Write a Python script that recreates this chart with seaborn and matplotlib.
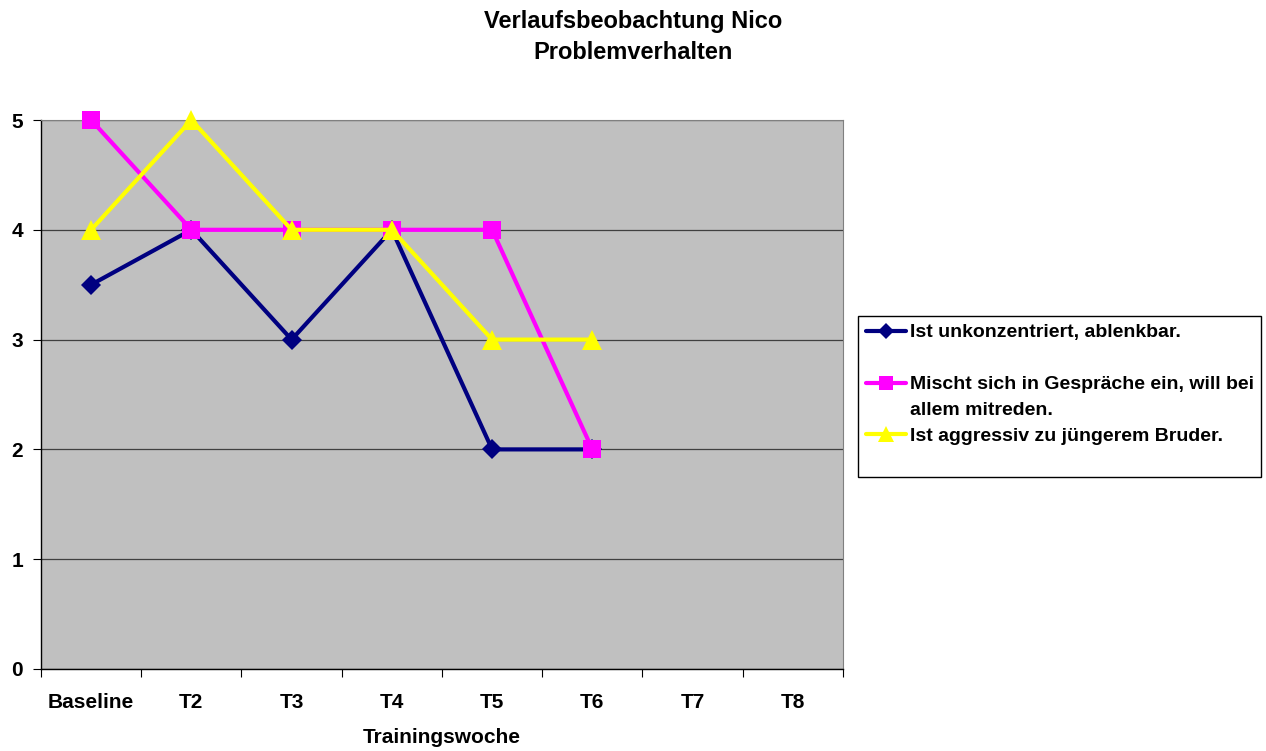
#! /usr/bin/env python3
'''
Verlaufsbeobachtung Nico - Problemverhalten (Liniendiagramm)
'''
# imports
from matplotlib.lines import Line2D
import matplotlib.pyplot as plt
import pandas as pd
import seaborn as sns

# data
wochen = ['Baseline', 'T2', 'T3', 'T4', 'T5', 'T6', 'T7', 'T8']
gemessen = ['Baseline', 'T2', 'T3', 'T4', 'T5', 'T6']
unkonzentriert = [3.5, 4, 3, 4, 2, 2]
mischt_sich_ein = [5, 4, 4, 4, 4, 2]
aggressiv = [4, 5, 4, 4, 3, 3]
labels = ['Ist unkonzentriert, ablenkbar.',
          'Mischt sich in Gespräche ein, will bei',
          'Ist aggressiv zu jüngerem Bruder.']
label_rest = 'allem mitreden.'

# settings
sns.set_style("ticks")
plt.rcParams['font.family'] = ['Liberation Sans', 'DejaVu Sans']
plt.rcParams['font.weight'] = 'bold'
plt.rcParams['text.color'] = 'black'
plt.rcParams['xtick.color'] = 'black'
plt.rcParams['ytick.color'] = 'black'
plt.rcParams['axes.labelcolor'] = 'black'
stile = [
    dict(color='#000080', marker='D', markersize=10.5),
    dict(color='#FF00FF', marker='s', markersize=13),
    dict(color='#FFFF00', marker='^', markersize=14),
]

rows = []
for name, werte in zip(labels, [unkonzentriert, mischt_sich_ein, aggressiv]):
    for w, v in zip(gemessen, werte):
        rows.append({'reihe': name, 'pos': wochen.index(w), 'wert': v})
df = pd.DataFrame(rows)

fig = plt.figure(figsize=(12.66, 7.51), dpi=100)
ax = fig.add_axes([41/1266, 1 - 669/751, (843 - 41)/1266, (669 - 120)/751])
ax.set_facecolor('#C0C0C0')

handles = []
for name, st in zip(labels, stile):
    sns.lineplot(data=df[df['reihe'] == name], x='pos', y='wert', ax=ax,
                 color=st['color'], marker=st['marker'], markersize=st['markersize'],
                 markeredgewidth=0, linewidth=3, legend=False, zorder=3, clip_on=False)
    handles.append(Line2D([], [], color=st['color'], marker=st['marker'],
                          markersize=st['markersize'] * 0.8, markeredgewidth=0, linewidth=3))

# axes
ax.set_xlim(-0.5, len(wochen) - 0.5)
ax.set_ylim(0, 5)
ax.set_yticks(range(6))
ax.set_xticks([i - 0.5 for i in range(len(wochen) + 1)])
ax.set_xticklabels([])
ax.set_xticks(range(len(wochen)), minor=True)
ax.set_xticklabels(wochen, minor=True, fontsize=15, fontweight='bold')
ax.tick_params(axis='x', which='minor', length=0, pad=17)
ax.tick_params(axis='x', which='major', length=6, width=0.8, color='black')
ax.tick_params(axis='y', length=6, width=0.8, pad=7, labelsize=15)
for t in ax.get_yticklabels():
    t.set_fontweight('bold')
ax.grid(axis='y', color='#404040', linewidth=0.9)
ax.set_axisbelow(True)
for s in ['top', 'right']:
    ax.spines[s].set_color('#808080')
    ax.spines[s].set_linewidth(0.8)
for s in ['left', 'bottom']:
    ax.spines[s].set_color('black')
    ax.spines[s].set_linewidth(1.0)
ax.set_xlabel('Trainingswoche', fontsize=15, fontweight='bold', labelpad=12)
ax.set_ylabel('')

fig.suptitle('Verlaufsbeobachtung Nico\nProblemverhalten', x=0.5, y=1 - 10/751,
             va='top', fontsize=17, fontweight='bold', linespacing=1.42)

# legend with blank rows to mimic spacing
leer = Line2D([], [], color='none')
leg_handles = [handles[0], leer, handles[1], leer, handles[2], leer]
leg_labels = [labels[0], ' ', labels[1], label_rest, labels[2], ' ']
legend = ax.legend(leg_handles, leg_labels, loc='upper left',
                   bbox_to_anchor=(858/1266, 1 - 473/751, (1261 - 858)/1266, (473 - 316)/751),
                   bbox_transform=fig.transFigure, mode='expand',
                   prop={'size': 14, 'weight': 'bold'}, frameon=True, fancybox=False,
                   framealpha=1, edgecolor='black', borderpad=0.4, labelspacing=0.43,
                   handlelength=2.05, handletextpad=0.2, borderaxespad=0)
legend.get_frame().set_linewidth(1.0)
for t in legend.get_texts():
    t.set_color('black')
legend.get_texts()[-1].set_fontsize(5)

fig.savefig('out.png', dpi=100)
plt.close()
